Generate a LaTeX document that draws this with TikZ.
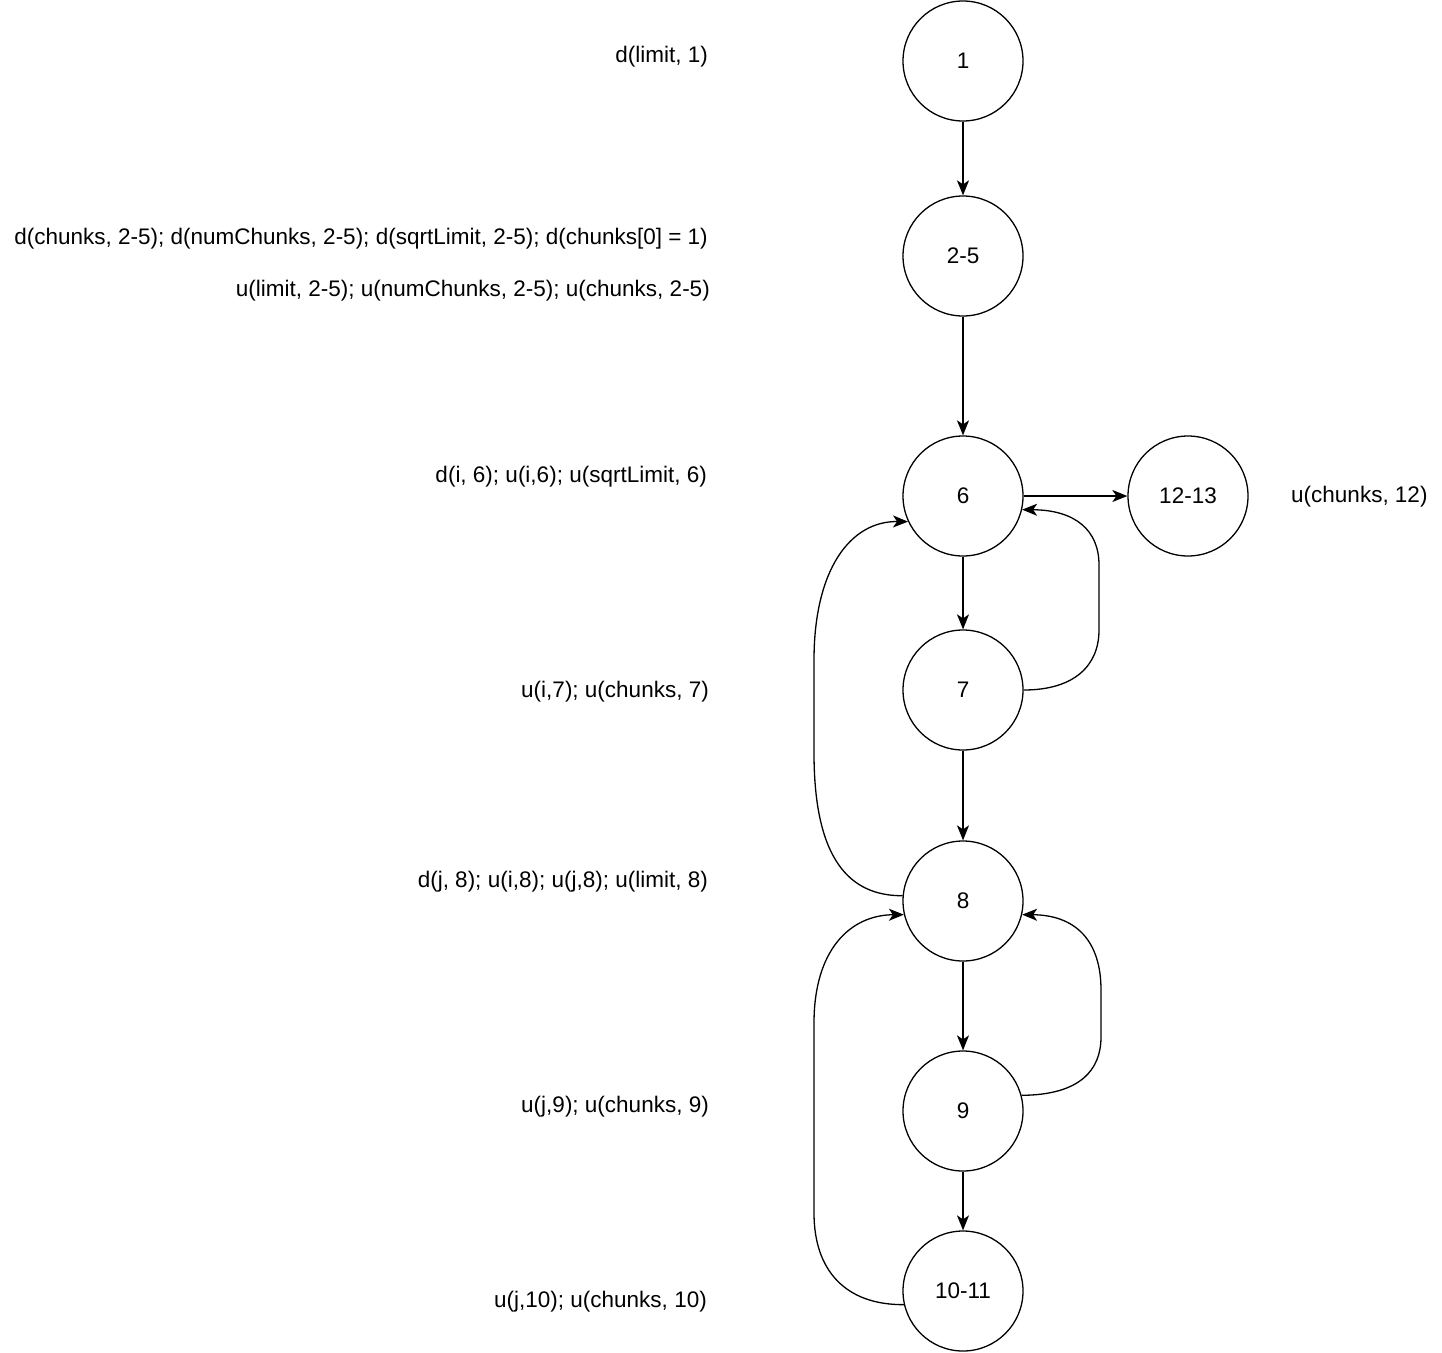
\documentclass[tikz,border=0pt]{standalone}
\usepackage{fontspec}
\setmainfont{Liberation Sans}
\usetikzlibrary{arrows.meta}
\begin{document}
\begin{tikzpicture}[x=1pt,y=-1pt,
  blk/.style={circle,draw,line width=1.3pt,minimum size=120pt,inner sep=0pt,font=\fontsize{22.5}{26}\selectfont},
  lbl/.style={anchor=east,inner sep=0pt,font=\fontsize{22.5}{26}\selectfont},
  lblw/.style={anchor=west,inner sep=0pt,font=\fontsize{22.5}{26}\selectfont},
  edge/.style={line width=1.3pt,-{Stealth[length=15pt,width=12pt,inset=4pt]}}]
\useasboundingbox (0,0) rectangle (1442,1352);
\node[blk] (n1) at (963,61) {1};
\node[blk] (n25) at (963,256) {2-5};
\node[blk] (n6) at (963,496) {6};
\node[blk] (n1213) at (1188,496) {12-13};
\node[blk] (n7) at (963,690) {7};
\node[blk] (n8) at (963,901) {8};
\node[blk] (n9) at (963,1111) {9};
\node[blk] (n1011) at (963,1291) {10-11};

\node[lbl] (l1) at (708,57) {d(limit, 1)};
\node[lbl] (l2) at (708,239) {d(chunks, 2-5); d(numChunks, 2-5); d(sqrtLimit, 2-5); d(chunks[0] = 1)};
\node[lbl] (l3) at (710,291) {u(limit, 2-5); u(numChunks, 2-5); u(chunks, 2-5)};
\node[lbl] (l4) at (707,477) {d(i, 6); u(i,6); u(sqrtLimit, 6)};
\node[lbl] (l5) at (709,692) {u(i,7); u(chunks, 7)};
\node[lbl] (l6) at (708,882) {d(j, 8); u(i,8); u(j,8); u(limit, 8)};
\node[lbl] (l7) at (709,1107) {u(j,9); u(chunks, 9)};
\node[lbl] (l8) at (707,1302) {u(j,10); u(chunks, 10)};
\node[lblw] (l9) at (1291,497) {u(chunks, 12)};

\draw[edge] (n1) -- (n25);
\draw[edge] (n25) -- (n6);
\draw[edge] (n6) -- (n1213);
\draw[edge] (n6) -- (n7);
\draw[edge] (n7) -- (n8);
\draw[edge] (n8) -- (n9);
\draw[edge] (n9) -- (n1011);

\draw[edge] (n7.east) .. controls (1075,690) and (1099,665) .. (1099,630) -- (1099,565) .. controls (1099,530) and (1075,510) .. (n6.-13);
\draw[edge] (n8.175) .. controls (850,896) and (814,860) .. (814,753) -- (814,660) .. controls (814,570) and (850,521) .. (n6.205);
\draw[edge] (n9.15) .. controls (1080,1095) and (1101,1070) .. (1101,1037) -- (1101,990) .. controls (1101,940) and (1075,915) .. (n8.-13);
\draw[edge] (n1011.193) .. controls (845,1305) and (814,1270) .. (814,1213) -- (814,1023) .. controls (814,950) and (850,915) .. (n8.193);
\end{tikzpicture}
\end{document}
